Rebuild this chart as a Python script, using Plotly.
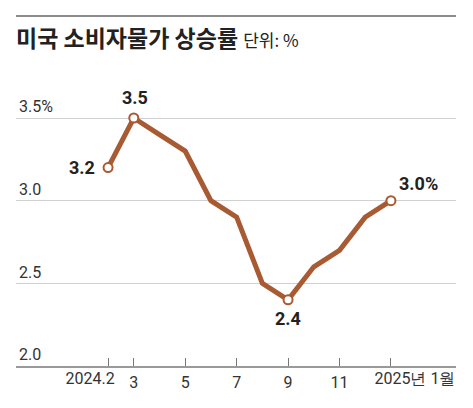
import plotly.graph_objects as go

months = ["2024.2", "3", "4", "5", "6", "7", "8", "9", "10", "11", "12", "2025년 1월"]
cpi = [3.2, 3.5, 3.4, 3.3, 3.0, 2.9, 2.5, 2.4, 2.6, 2.7, 2.9, 3.0]
x_tick_idx = [0, 1, 3, 5, 7, 9, 11]
x_tick_text = ["2024.2", "3", "5", "7", "9", "11", "2025년 1월"]
y_tick_vals = [2.0, 2.5, 3.0, 3.5]
y_tick_text = ["2.0", "2.5", "3.0", "3.5%"]
highlight_idx = [0, 1, 7, 11]
highlight_text = ["3.2", "3.5", "2.4", "3.0%"]

LINE = "#A85A33"
TICKFONT = dict(family="Roboto, sans-serif", size=16, color="#333")
xs = list(range(len(months)))
XR = [-3.58, 13.53]

fig = go.Figure()
fig.add_trace(go.Scatter(
    x=xs, y=cpi, mode="lines",
    line=dict(color=LINE, width=5), hoverinfo="skip", showlegend=False,
    cliponaxis=False,
))
fig.add_trace(go.Scatter(
    x=[xs[i] for i in highlight_idx], y=[cpi[i] for i in highlight_idx],
    mode="markers",
    marker=dict(size=9, color="white", line=dict(color=LINE, width=2)),
    showlegend=False, hoverinfo="skip", cliponaxis=False,
))
# invisible carriers so the shifted overlay label axes are drawn
for ax in ("x2", "x3"):
    fig.add_trace(go.Scatter(
        x=[xs[0]], y=[cpi[0]], xaxis=ax, yaxis="y", mode="markers",
        marker=dict(opacity=0), hoverinfo="skip", showlegend=False,
    ))

# label placement: (xanchor, xshift, yshift)
label_place = [("right", -11, 0), ("center", 1, 21), ("center", 0, -19), ("left", 6, 17)]
for i, t, (xa, xsft, ysft) in zip(highlight_idx, highlight_text, label_place):
    fig.add_annotation(
        x=xs[i], y=cpi[i], text=f"<b>{t}</b>", showarrow=False,
        xanchor=xa, yanchor="middle", xshift=xsft, yshift=ysft,
        font=dict(family="Roboto, sans-serif", size=18, color="#222"),
    )

# main x tick labels (first and last drawn by shifted overlay axes)
mid_text = ["" if k in (0, len(x_tick_idx) - 1) else t for k, t in enumerate(x_tick_text)]

fig.update_layout(
    width=465, height=400,
    margin=dict(l=8, r=17, t=82, b=42, autoexpand=False),
    paper_bgcolor="white", plot_bgcolor="white",
    font=dict(family="Roboto, sans-serif", color="#333"),
    title=dict(
        text="<b>미국 소비자물가 상승률</b> <span style='font-size:17px;font-weight:normal'>단위: %</span>",
        x=8 / 465, xanchor="left", xref="container",
        y=1 - 31 / 400, yanchor="middle", yref="container",
        font=dict(family="'Noto Sans CJK KR', sans-serif", size=23, color="#222"),
    ),
    xaxis=dict(
        range=XR,
        tickmode="array", tickvals=x_tick_idx, ticktext=mid_text,
        ticks="inside", ticklen=8, tickcolor="#777", tickwidth=1,
        tickangle=0, automargin=False,
        showgrid=False, zeroline=False,
        showline=True, linecolor="#999", linewidth=1.5,
        tickfont=TICKFONT, ticklabelstandoff=1,
    ),
    xaxis2=dict(
        overlaying="x", anchor="y", side="bottom", range=XR,
        tickmode="array", tickvals=[x_tick_idx[0]], ticktext=[x_tick_text[0]],
        ticks="", showline=False, showgrid=False, zeroline=False,
        tickangle=0, automargin=False, ticklabelshift=-18,
        tickfont=TICKFONT, ticklabelstandoff=1,
    ),
    xaxis3=dict(
        overlaying="x", anchor="y", side="bottom", range=XR,
        tickmode="array", tickvals=[x_tick_idx[-1]], ticktext=[x_tick_text[-1]],
        ticks="", showline=False, showgrid=False, zeroline=False,
        tickangle=0, automargin=False, ticklabelshift=24,
        tickfont=TICKFONT, ticklabelstandoff=1,
    ),
    yaxis=dict(
        range=[2.0, 3.6694],
        tickmode="array", tickvals=y_tick_vals, ticktext=y_tick_text,
        ticks="", ticklabelposition="inside top", automargin=False,
        showgrid=True, gridcolor="#d0d0d0", gridwidth=1,
        zeroline=False, showline=False,
        tickfont=TICKFONT,
    ),
    shapes=[dict(type="line", xref="paper", yref="paper", layer="above",
                 x0=0, x1=1, y0=350 / 276, y1=350 / 276,
                 line=dict(color="#8c8c8c", width=2))],
)

fig.write_html("out.html")
